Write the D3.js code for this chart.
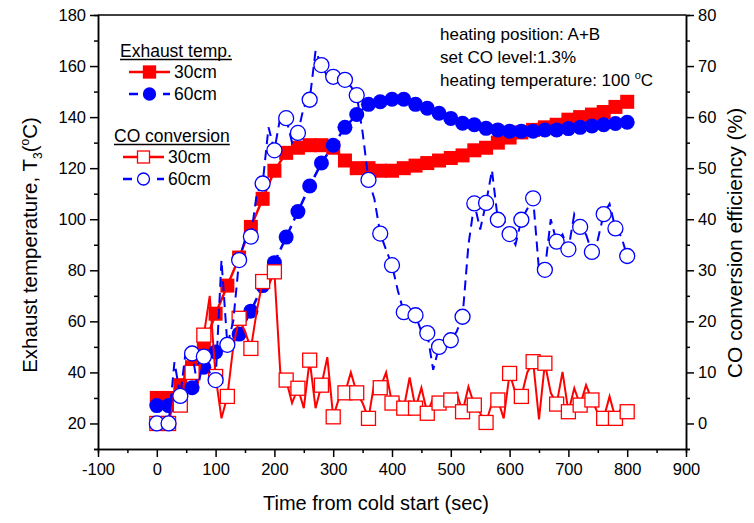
<!DOCTYPE html>
<html>
<head>
<meta charset="utf-8">
<script src="https://cdn.jsdelivr.net/npm/d3@7"></script>
<style>
  body { margin: 0; background: #fff; }
  svg text { font-family: "Liberation Sans", Arial, sans-serif; }
</style>
</head>
<body>
<div id="chart"></div>
<script>
// exhaust temperature, every 20 s
const tTemp = d3.range(0, 801, 20);
const temp30 = [30, 30, 35, 42, 50, 63, 74, 85, 97, 108, 119, 126, 128, 129, 129, 128, 123, 120, 120, 119,
  119, 120, 121, 122, 123, 124, 125, 127, 128, 130, 132, 134, 135, 136, 137, 139, 140, 141, 142, 144, 146];
const temp60 = [27, 27, 30, 34, 42, 48, 51, 55, 64, 74, 83, 93, 103, 113, 122, 129, 136, 141, 145, 146,
  147, 147, 145, 143.5, 141.5, 139.5, 137.6, 137, 135.6, 135, 134.5, 134.5, 134.5, 135, 135, 135.5, 136, 136.5, 137, 137.5, 138];

// CO conversion, line every 10 s, markers every 20 s
const tCO = d3.range(0, 801, 10);
const co30 = [0, 0, 0, 5, 3.6, 12, 10, 8, 17.3, 25, 9.2, 1, 5.3, 15, 20.6, 18, 14.7, 22, 27.8, 27,
  29.7, 10, 8.5, 4, 6.9, 3, 12.4, 3, 7.5, 13, 1.3, 5, 6, 10, 6, 4, 1, 8, 7, 10,
  4, 5, 3, 9, 3, 7, 2, 5, 4, 5, 4.6, 6, 2.3, 7.2, 3.6, 2, 0.2, 4, 4.6, 1,
  9.8, 6, 5.3, 10, 12.1, 0.8, 11.8, 6, 3.8, 10.1, 2.3, 6.9, 3.6, 7.5, 4.6, 2, 1, 5.3, 1, 3, 2.3];
const co60 = [0, 0, 0, 12, 5.4, 15, 13.7, 7, 13.1, 10, 8.5, 32, 15.4, 20, 32, 36, 36.6, 45, 47, 58,
  53.5, 60, 59.8, 55, 56.9, 62, 63.4, 73, 70.2, 68, 67.9, 67, 67.3, 66, 64.3, 57, 47.7, 44, 37.2, 34,
  31, 26, 21.8, 22, 21.2, 18, 17.7, 10.5, 15, 15.5, 16.3, 18, 20.9, 35, 43.1, 38, 43.2, 49.6, 39.9, 40,
  37.1, 35, 39.9, 42, 44.1, 30, 30.1, 40, 35.6, 37, 34.1, 41, 38.5, 37, 33.6, 36, 41, 43, 38.2, 36.6, 32.8];

const xTicks = d3.range(-100, 901, 100);
const yLTicks = d3.range(20, 181, 20);
const yRTicks = d3.range(0, 81, 10);

const W = 754, H = 523;
const m = {top: 15, right: 68, bottom: 74, left: 98};

const svg = d3.select("#chart").append("svg")
  .attr("width", W).attr("height", H);

const x = d3.scaleLinear().domain([-100, 900]).range([m.left, W - m.right]);
const yL = d3.scaleLinear().domain([10, 180]).range([H - m.bottom, m.top]);
const yR = d3.scaleLinear().domain([-5, 80]).range([H - m.bottom, m.top]);

const red = "#ff0000", blue = "#0000ff";
const fmt = d => String(d);

// axes
function styleAxis(g) {
  g.selectAll("path, line").attr("stroke", "#000").attr("stroke-width", 1.5);
  g.selectAll("text").attr("font-size", 16.5).attr("fill", "#000")
    .attr("font-family", "Liberation Sans, Arial, sans-serif");
}

svg.append("g").attr("transform", `translate(0,${H - m.bottom})`)
  .call(d3.axisBottom(x).tickValues(d3.range(-50, 900, 100)).tickSize(4).tickFormat(""))
  .call(styleAxis);
svg.append("g").attr("transform", `translate(0,${H - m.bottom})`)
  .call(d3.axisBottom(x).tickValues(xTicks).tickSize(8).tickSizeOuter(0).tickPadding(6).tickFormat(fmt))
  .call(styleAxis);

svg.append("g").attr("transform", `translate(${m.left},0)`)
  .call(d3.axisLeft(yL).tickValues(d3.range(10, 180, 20)).tickSize(4).tickFormat(""))
  .call(styleAxis);
svg.append("g").attr("transform", `translate(${m.left},0)`)
  .call(d3.axisLeft(yL).tickValues(yLTicks).tickSize(8).tickSizeOuter(0).tickPadding(4).tickFormat(fmt))
  .call(styleAxis);

svg.append("g").attr("transform", `translate(${W - m.right},0)`)
  .call(d3.axisRight(yR).tickValues(d3.range(-5, 80, 10)).tickSize(4).tickFormat(""))
  .call(styleAxis);
svg.append("g").attr("transform", `translate(${W - m.right},0)`)
  .call(d3.axisRight(yR).tickValues(yRTicks).tickSize(8).tickSizeOuter(0).tickPadding(4).tickFormat(fmt))
  .call(styleAxis);

svg.append("line")
  .attr("x1", m.left).attr("x2", W - m.right)
  .attr("y1", m.top).attr("y2", m.top)
  .attr("stroke", "#000").attr("stroke-width", 1.5);

// axis titles
const lt = svg.append("text")
  .attr("transform", `translate(37,${245}) rotate(-90)`)
  .attr("text-anchor", "middle").attr("font-size", 20.5);
lt.append("tspan").text("Exhaust temperature, T");
lt.append("tspan").attr("font-size", 12).attr("dy", 5).text("3");
lt.append("tspan").attr("dy", -5).text("(");
lt.append("tspan").attr("font-size", 12).attr("dy", -8).text("o");
lt.append("tspan").attr("dy", 8).text("C)");

svg.append("text")
  .attr("transform", `translate(742,${243}) rotate(-90)`)
  .attr("text-anchor", "middle").attr("font-size", 21)
  .text("CO conversion efficiency (%)");

svg.append("text")
  .attr("x", 376).attr("y", 510)
  .attr("text-anchor", "middle").attr("font-size", 20)
  .text("Time from cold start (sec)");

// series
const line = (ys, yScale, ts) => d3.line()
  .x((d, i) => x(ts[i])).y(d => yScale(d))(ys);

// exhaust 30cm
svg.append("path").attr("d", line(temp30, yL, tTemp))
  .attr("fill", "none").attr("stroke", red).attr("stroke-width", 2.5);
svg.append("g").selectAll("rect").data(temp30).join("rect")
  .attr("x", (d, i) => x(tTemp[i]) - 7).attr("y", d => yL(d) - 7)
  .attr("width", 14).attr("height", 14).attr("fill", red);

// exhaust 60cm
svg.append("path").attr("d", line(temp60, yL, tTemp))
  .attr("fill", "none").attr("stroke", blue).attr("stroke-width", 2.5)
  .attr("stroke-dasharray", "10,6");
svg.append("g").selectAll("circle").data(temp60).join("circle")
  .attr("cx", (d, i) => x(tTemp[i])).attr("cy", d => yL(d))
  .attr("r", 7.5).attr("fill", blue);

// CO 30cm
svg.append("path").attr("d", line(co30, yR, tCO))
  .attr("fill", "none").attr("stroke", red).attr("stroke-width", 2);
svg.append("g").selectAll("rect").data(co30.filter((d, i) => i % 2 === 0)).join("rect")
  .attr("x", (d, i) => x(tCO[i * 2]) - 7).attr("y", d => yR(d) - 7)
  .attr("width", 14).attr("height", 14)
  .attr("fill", "#fff").attr("stroke", red).attr("stroke-width", 1.3);

// CO 60cm
svg.append("path").attr("d", line(co60, yR, tCO))
  .attr("fill", "none").attr("stroke", blue).attr("stroke-width", 2)
  .attr("stroke-dasharray", "10,6");
svg.append("g").selectAll("circle").data(co60.filter((d, i) => i % 2 === 0)).join("circle")
  .attr("cx", (d, i) => x(tCO[i * 2])).attr("cy", d => yR(d))
  .attr("r", 7.5)
  .attr("fill", "#fff").attr("stroke", blue).attr("stroke-width", 1.3);

// legend
function legTitle(txt, x0, y0) {
  const t = svg.append("text").attr("x", x0).attr("y", y0).attr("font-size", 17.5).text(txt);
  const w = t.node().getComputedTextLength();
  svg.append("line").attr("x1", x0).attr("x2", x0 + w).attr("y1", y0 + 2.5).attr("y2", y0 + 2.5)
    .attr("stroke", "#000").attr("stroke-width", 1.3);
}
legTitle("Exhaust temp.", 120, 57);
legTitle("CO conversion", 114, 142);

function legItem(x1, x2, y0, color, dash, marker, filled, label, tx) {
  const l = svg.append("line").attr("x1", x1).attr("x2", x2).attr("y1", y0).attr("y2", y0)
    .attr("stroke", color).attr("stroke-width", 2.5);
  if (dash) l.attr("stroke-dasharray", dash);
  const cx = (x1 + x2) / 2;
  if (marker === "square") {
    svg.append("rect").attr("x", cx - 6).attr("y", y0 - 6).attr("width", 12).attr("height", 12)
      .attr("fill", filled ? color : "#fff").attr("stroke", color).attr("stroke-width", 1.3);
  } else {
    svg.append("circle").attr("cx", cx).attr("cy", y0).attr("r", 6)
      .attr("fill", filled ? color : "#fff").attr("stroke", color).attr("stroke-width", 1.3);
  }
  svg.append("text").attr("x", tx).attr("y", y0 + 6).attr("font-size", 17.5).text(label);
}
legItem(129, 170, 72, red, null, "square", true, "30cm", 174);
legItem(129, 170, 94, blue, "9,8", "circle", true, "60cm", 174);
legItem(123, 164, 157, red, null, "square", false, "30cm", 168);
legItem(123, 164, 179, blue, "9,8", "circle", false, "60cm", 168);

// annotation
svg.append("text").attr("x", 440).attr("y", 40).attr("font-size", 17).text("heating position: A+B");
svg.append("text").attr("x", 440).attr("y", 63).attr("font-size", 17).text("set CO level:1.3%");
const ht = svg.append("text").attr("x", 440).attr("y", 86).attr("font-size", 17);
ht.append("tspan").text("heating temperature: 100 ");
ht.append("tspan").attr("font-size", 11).attr("dy", -7).text("o");
ht.append("tspan").attr("dy", 7).text("C");
</script>
</body>
</html>
